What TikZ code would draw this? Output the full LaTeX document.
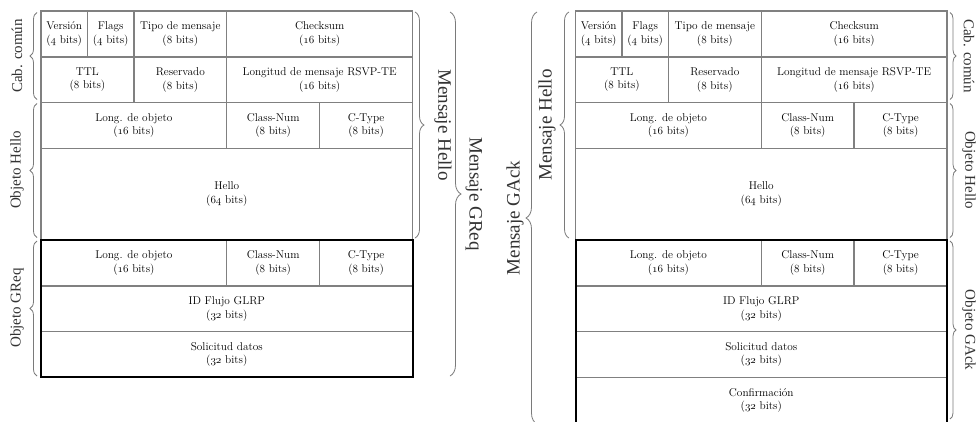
\documentclass[tikz,border=0pt]{standalone}
\usepackage{fontspec}
\newfontfamily\lblfont{Liberation Serif}
\usetikzlibrary{decorations.pathreplacing}

% old-style digits taken from the math italic font
\newcommand\osn[1]{{\usefont{OML}{cmm}{m}{it}#1}}
\newcommand\bitw{11.61}
\newcommand\rowh{45.8}
% field: name, first bit, last bit, first row, last row, text
\newcommand\fld[6]{%
  \node[cell, minimum width={(#3-#2)*\bitw}, minimum height={(#5-#4)*\rowh}]
    (#1) at ({(#2+#3)/2*\bitw},{11+(#4+#5)/2*\rowh}) {#6};}
% common header + Hello object + first rows of the second object
\newcommand\hellopart{%
  \fld{ver}{0}{4}{0}{1}{Versión\\(\osn{4} bits)}
  \fld{flg}{4}{8}{0}{1}{Flags\\(\osn{4} bits)}
  \fld{tipo}{8}{16}{0}{1}{Tipo de mensaje\\(\osn{8} bits)}
  \fld{chk}{16}{32}{0}{1}{Checksum\\(\osn{16} bits)}
  \fld{ttl}{0}{8}{1}{2}{TTL\\(\osn{8} bits)}
  \fld{res}{8}{16}{1}{2}{Reservado\\(\osn{8} bits)}
  \fld{len}{16}{32}{1}{2}{Longitud de mensaje RSVP-TE\\(\osn{16} bits)}
  \fld{lo1}{0}{16}{2}{3}{Long. de objeto\\(\osn{16} bits)}
  \fld{cn1}{16}{24}{2}{3}{Class-Num\\(\osn{8} bits)}
  \fld{ct1}{24}{32}{2}{3}{C-Type\\(\osn{8} bits)}
  \fld{hel}{0}{32}{3}{5}{Hello\\(\osn{64} bits)}
  \fld{lo2}{0}{16}{5}{6}{Long. de objeto\\(\osn{16} bits)}
  \fld{cn2}{16}{24}{5}{6}{Class-Num\\(\osn{8} bits)}
  \fld{ct2}{24}{32}{5}{6}{C-Type\\(\osn{8} bits)}
  \fld{idf}{0}{32}{6}{7}{ID Flujo GLRP\\(\osn{32} bits)}
  \fld{sol}{0}{32}{7}{8}{Solicitud datos\\(\osn{32} bits)}}

\definecolor{cellgray}{HTML}{808080}
\definecolor{bracegray}{HTML}{7A7A7A}

\tikzset{
  cell/.style={draw=cellgray, line width=1.4pt, inner sep=0pt, outer sep=0pt,
    align=center, text=black, font=\fontsize{11.3}{13.6}\selectfont},
  objframe/.style={draw=black, line width=2pt},
  brc/.style={decorate, decoration={brace, amplitude=#1}, draw=bracegray, line width=0.8pt},
  lbl/.style={font=\lblfont\fontsize{15}{15}\selectfont, text=black!80, inner sep=0pt},
  biglbl/.style={font=\lblfont\fontsize{19}{19}\selectfont, text=black!80, inner sep=0pt},
}

\begin{document}
\begin{tikzpicture}[x=1pt,y=-1pt]
\useasboundingbox (0,0) rectangle (978,421);
\clip (0,0) rectangle (978,421);

% ---------- GReq message ----------
\begin{scope}[shift={(41,0)}, name prefix=L-]
  \hellopart
  \draw[objframe] (lo2.north west) rectangle (sol.south east);
\end{scope}

% ---------- GAck message ----------
\begin{scope}[shift={(575.5,0)}, name prefix=R-]
  \hellopart
  \fld{cnf}{0}{32}{8}{9}{Confirmación\\(\osn{32} bits)}
  \draw[objframe] (lo2.north west) rectangle (cnf.south east);
\end{scope}

% ---------- braces and labels, GReq side ----------
\draw[brc=7] (37,99.5) -- (37,12.5);
\node[lbl, rotate=90] (l-cab) at (17,56) {Cab. común};
\draw[brc=7] (37,237.5) -- (37,103.5);
\node[lbl, rotate=90] (l-oh) at (17,170) {Objeto Hello};
\draw[brc=7] (37,376) -- (37,241);
\node[lbl, rotate=90] (l-og) at (17,308) {Objeto GReq};
\draw[brc=9] (415,12) -- (415,238);
\node[biglbl, rotate=-90] (l-mh) at (443,125) {Mensaje Hello};
\draw[brc=11] (450,12) -- (450,376);
\node[biglbl, rotate=-90] (l-mg) at (474,194) {Mensaje GReq};

% ---------- braces and labels, GAck side ----------
\draw[brc=11] (537,424) -- (537,12);
\node[biglbl, rotate=90] (r-mg) at (515,218) {Mensaje GAck};
\draw[brc=9] (569,238) -- (569,12);
\node[biglbl, rotate=90] (r-mh) at (547,125) {Mensaje Hello};
\draw[brc=6] (950,12.5) -- (950,99.5);
\node[lbl, rotate=-90] (r-cab) at (969,56) {Cab. común};
\draw[brc=6] (950,103.5) -- (950,237.5);
\node[lbl, rotate=-90] (r-oh) at (969,170) {Objeto Hello};
\draw[brc=6] (950,241) -- (950,419);
\node[lbl, rotate=-90] (r-oa) at (969,330) {Objeto GAck};
\end{tikzpicture}
\end{document}
